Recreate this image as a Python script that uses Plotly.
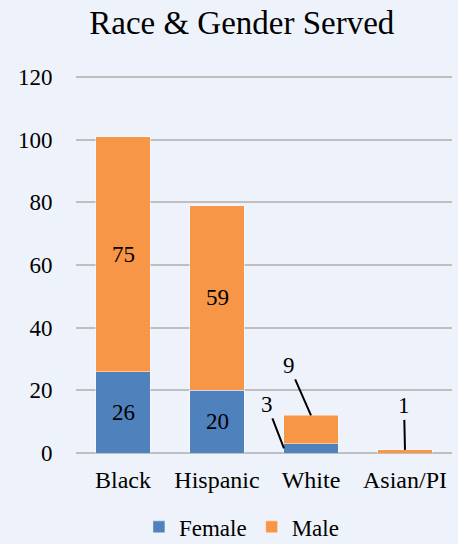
import plotly.graph_objects as go

# Clients served, split by race and gender
categories = ["Black", "Hispanic", "White", "Asian/PI"]
female = [26, 20, 3, 0]
male = [75, 59, 9, 1]
y_ticks = [0, 20, 40, 60, 80, 100, 120]

BG = "#EEF2FA"
BLUE = "#4F81BD"
ORANGE = "#F79646"
FONT = "Liberation Serif"
BAR_W = 0.575

pos = list(range(len(categories)))

fig = go.Figure()
fig.add_trace(go.Bar(
    x=pos, y=female, name="Female", width=BAR_W,
    marker=dict(color=BLUE, line=dict(color="rgba(255,255,255,0.45)", width=1)),
))
fig.add_trace(go.Bar(
    x=pos, y=male, name="Male", width=BAR_W,
    marker=dict(color=ORANGE, line=dict(color="rgba(255,255,255,0.45)", width=1)),
))

annotations = []
# Labels centred inside the larger segments
for i, (f, m) in enumerate(zip(female, male)):
    if f >= 10:
        annotations.append(dict(x=i, y=f / 2, text=str(f), showarrow=False,
                                font=dict(family=FONT, size=23, color="black")))
    if m >= 10:
        annotations.append(dict(x=i, y=f + m / 2, text=str(m), showarrow=False,
                                font=dict(family=FONT, size=23, color="black")))

# Callouts with leader lines for the small segments
callouts = [
    # (x, y of line end, text, ax, ay)
    (2 - BAR_W / 2, female[2] * 0.5, str(female[2]), -17, -44),
    (2, female[2] + male[2], str(male[2]), -22, -50),
    (3, female[3] + male[3], str(male[3]), -1, -44),
]
for x, y, t, ax, ay in callouts:
    annotations.append(dict(
        x=x, y=y, text=t, showarrow=True, arrowhead=0, arrowwidth=2,
        arrowcolor="black", ax=ax, ay=ay, standoff=0,
        font=dict(family=FONT, size=23, color="black"),
    ))

fig.update_layout(
    barmode="stack",
    width=458, height=544,
    paper_bgcolor=BG, plot_bgcolor=BG,
    margin=dict(l=76, r=6, t=74, b=91, autoexpand=False),
    title=dict(text="Race & Gender Served", x=0.441, xref="paper", xanchor="center",
               y=1 - 22 / 544, yanchor="middle",
               font=dict(family=FONT, size=33, color="black")),
    font=dict(family=FONT, size=23, color="black"),
    xaxis=dict(
        tickmode="array", tickvals=pos, ticktext=categories,
        range=[-0.5, len(categories) - 0.5],
        showgrid=False, zeroline=False, showline=False,
        ticks="outside", ticklen=5, tickcolor="rgba(0,0,0,0)",
        tickfont=dict(family=FONT, size=24, color="black"),
        automargin=False,
    ),
    yaxis=dict(
        range=[0, 121], tickmode="array", tickvals=y_ticks,
        showgrid=True, gridcolor="#BFBFBF", gridwidth=2,
        zeroline=True, zerolinecolor="#BFBFBF", zerolinewidth=2,
        ticks="outside", ticklen=18, tickcolor="rgba(0,0,0,0)",
        tickfont=dict(family=FONT, size=23, color="black"),
        automargin=False,
    ),
    legend=dict(
        orientation="h", x=0.44, xanchor="center", y=-0.195, yanchor="middle",
        font=dict(family=FONT, size=23, color="black"),
        bgcolor="rgba(0,0,0,0)", traceorder="normal", itemwidth=30,
    ),
    annotations=annotations,
)

fig.write_html("out.html")
